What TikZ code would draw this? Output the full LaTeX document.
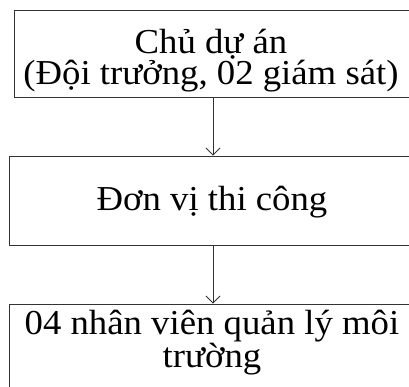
\documentclass[tikz,border=0pt]{standalone}
\usepackage{fontspec}
\setmainfont{Liberation Serif}[FakeStretch=1.05]
\usetikzlibrary{arrows.meta}
\begin{document}
\begin{tikzpicture}[x=1pt,y=-1pt,
  box/.style={draw=black!80, line width=0.9pt, rectangle, inner sep=0pt},
  txt/.style={inner sep=0pt, align=center, anchor=base,
    font=\fontsize{35}{31}\selectfont},
  link/.style={draw=black!80, line width=0.9pt, -{Straight Barb[length=7pt,width=14pt]}}]
  \useasboundingbox (0,0) rectangle (409,387);
  \clip (0,0) rectangle (409,387);
  % three stacked boxes, wider than the page so their right sides fall outside
  \node[box, minimum width=398pt, minimum height=87pt] (owner) at (213,53.5) {};
  \node[box, minimum width=407pt, minimum height=89.5pt] (contractor) at (213,200.75) {};
  \node[box, minimum width=407pt, minimum height=89.5pt] (staff) at (213,348.75) {};
  % box texts, placed by the baseline of their last line
  \node[txt] (ownertext) at (211,84.5) {Chủ dự án\\(Đội trưởng, 02 giám sát)};
  \node[txt] (contractortext) at (212,210.5) {Đơn vị thi công};
  \node[txt] (stafftext) at (212,367) {04 nhân viên quản lý môi\\trường};
  % downward links
  \draw[link] (owner) -- (contractor);
  \draw[link] (contractor) -- (staff);
\end{tikzpicture}
\end{document}
